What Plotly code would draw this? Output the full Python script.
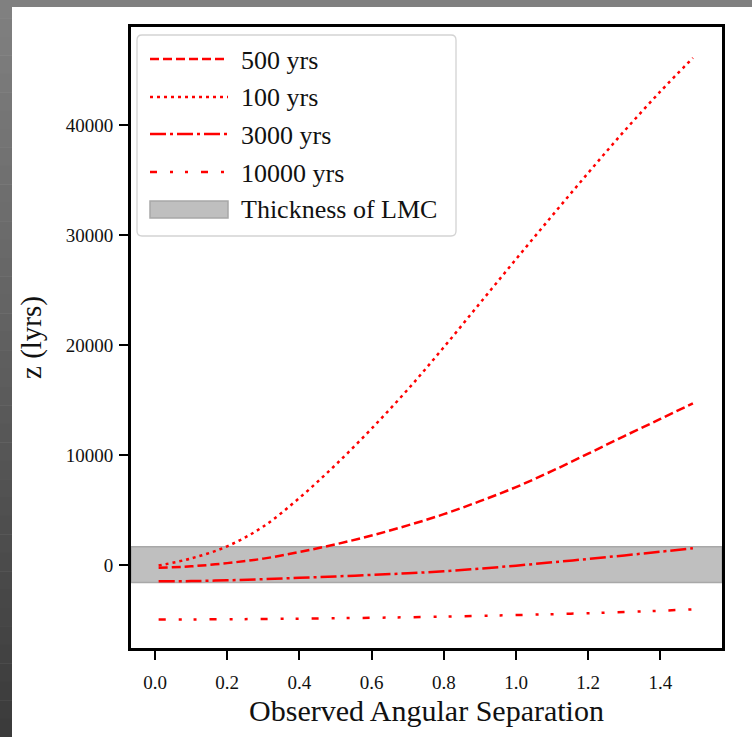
import plotly.graph_objects as go

# ---------------- data ----------------
theta = [0.01, 0.1, 0.2, 0.3, 0.4, 0.5, 0.6, 0.7, 0.8, 0.9, 1.0, 1.1, 1.2, 1.3, 1.4, 1.49]

z_500 = [-250, -120, 170, 580, 1180, 1880, 2680, 3600, 4620, 5800, 7080, 8550, 10120, 11720, 13280, 14700]
z_100 = [-50, 600, 1700, 3500, 6100, 9100, 12400, 15950, 19800, 23800, 27800, 31750, 35650, 39450, 43050, 46100]
z_3000 = [-1480, -1460, -1390, -1290, -1170, -1040, -900, -750, -570, -330, -60, 240, 550, 870, 1210, 1520]
z_10000 = [-4960, -4950, -4930, -4910, -4880, -4840, -4800, -4750, -4690, -4620, -4550, -4470, -4380, -4280, -4160, -4030]

series_names = ["500 yrs", "100 yrs", "3000 yrs", "10000 yrs"]
band_label = "Thickness of LMC"
band_low, band_high = -1600, 1650

x_ticks = [0.0, 0.2, 0.4, 0.6, 0.8, 1.0, 1.2, 1.4]
x_ticktext = ["0.0", "0.2", "0.4", "0.6", "0.8", "1.0", "1.2", "1.4"]
y_ticks = [0, 10000, 20000, 30000, 40000]
y_ticktext = ["0", "10000", "20000", "30000", "40000"]

# ---------------- styles ----------------
W, H = 752, 737
L, R, T, B = 131, 722, 27, 648   # plot area in pixels
FONT = "Liberation Serif, Times New Roman, serif"
RED = "#ff0000"
dashes = ["9px,4px", "3px,4px", "16px,4px,3px,4px", "7px,13px,3px,12px,3px,13px"]
LW = 2.5


def px(xp):
    return (xp - L) / (R - L)


def py(yp):
    return (B - yp) / (B - T)


fig = go.Figure()
for name, ys, d in zip(series_names, [z_500, z_100, z_3000, z_10000], dashes):
    fig.add_trace(go.Scatter(
        x=theta, y=ys, mode="lines", name=name, showlegend=False,
        line=dict(color=RED, width=LW, dash=d, shape="spline", smoothing=1.0),
    ))

shapes = []
# outer gray frame of the screenshot (top strip + left gradient strip)
shapes.append(dict(type="rect", xref="paper", yref="paper", x0=px(0), x1=px(W),
                   y0=py(0), y1=py(7), fillcolor="#808080", line=dict(width=0), layer="below"))
nsteps = 40
for i in range(nsteps):
    y0 = H * i / nsteps
    y1 = H * (i + 1) / nsteps + 0.5
    c = int(round(129 - (129 - 58) * (i + 0.5) / nsteps))
    shapes.append(dict(type="rect", xref="paper", yref="paper", x0=px(0), x1=px(12),
                       y0=py(y0), y1=py(y1), fillcolor=f"rgb({c},{c},{c})",
                       line=dict(width=0), layer="below"))
# LMC thickness band
shapes.append(dict(type="rect", xref="paper", yref="y", x0=0, x1=1, y0=band_low, y1=band_high,
                   fillcolor="#bfbfbf", line=dict(color="#a8a8a8", width=1.5), layer="below"))

# legend box (rounded)
bx0, bx1, by0, by1, r = 137, 456, 35, 236, 5
rx, ry = r / (R - L), r / (B - T)
X0, X1, Yt, Yb = px(bx0), px(bx1), py(by0), py(by1)
path = (f"M{X0+rx},{Yt} L{X1-rx},{Yt} Q{X1},{Yt} {X1},{Yt-ry} L{X1},{Yb+ry} "
        f"Q{X1},{Yb} {X1-rx},{Yb} L{X0+rx},{Yb} Q{X0},{Yb} {X0},{Yb+ry} "
        f"L{X0},{Yt-ry} Q{X0},{Yt} {X0+rx},{Yt} Z")
shapes.append(dict(type="path", xref="paper", yref="paper", path=path,
                   fillcolor="rgba(255,255,255,0.85)", line=dict(color="#d3d3d3", width=1.3),
                   layer="above"))

annotations = []
legend_rows = [59, 97, 134, 172]
for name, d, yr in zip(series_names, dashes, legend_rows):
    shapes.append(dict(type="line", xref="paper", yref="paper", x0=px(150), x1=px(228),
                       y0=py(yr), y1=py(yr), line=dict(color=RED, width=LW, dash=d), layer="above"))
    annotations.append(dict(xref="paper", yref="paper", x=px(239), y=py(yr + 1), text=name,
                            showarrow=False, xanchor="left", yanchor="middle",
                            font=dict(family=FONT, size=26, color="#111111")))
shapes.append(dict(type="rect", xref="paper", yref="paper", x0=px(150), x1=px(228),
                   y0=py(201), y1=py(218), fillcolor="#bfbfbf",
                   line=dict(color="#a8a8a8", width=1.5), layer="above"))
annotations.append(dict(xref="paper", yref="paper", x=px(239), y=py(210), text=band_label,
                        showarrow=False, xanchor="left", yanchor="middle",
                        font=dict(family=FONT, size=26, color="#111111")))

axis_common = dict(showgrid=False, zeroline=False, showline=True, linecolor="black",
                   linewidth=2.8, mirror=True, ticks="outside", ticklen=9, tickwidth=2,
                   tickcolor="black", tickfont=dict(family=FONT, size=19, color="#111111"))

fig.update_layout(
    width=W, height=H,
    margin=dict(l=L, r=W - R, t=T, b=H - B),
    paper_bgcolor="white", plot_bgcolor="rgba(0,0,0,0)",
    shapes=shapes, annotations=annotations,
    showlegend=False,
    xaxis=dict(range=[-0.0665, 1.5706], tickvals=x_ticks, ticktext=x_ticktext,
               ticklabelstandoff=6,
               title=dict(text="Observed Angular Separation", standoff=9,
                          font=dict(family=FONT, size=30, color="#111111")),
               **axis_common),
    yaxis=dict(range=[-7545, 48909], tickvals=y_ticks, ticktext=y_ticktext,
               ticklabelstandoff=2,
               title=dict(text="z (lyrs)", standoff=16,
                          font=dict(family=FONT, size=29, color="#111111")),
               **axis_common),
)

fig.write_html("out.html")
